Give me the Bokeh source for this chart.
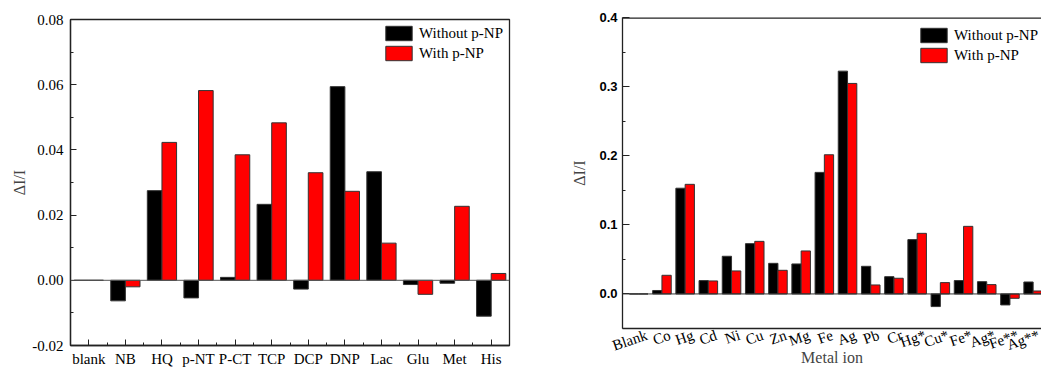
from bokeh.plotting import figure
from bokeh.models import (ColumnDataSource, FixedTicker, Legend, LegendItem, Span,
                          Range1d, NumeralTickFormatter)
from bokeh.layouts import row, column
from bokeh.transform import dodge
from bokeh.embed import file_html
from bokeh.resources import INLINE

# ---------------- data ----------------
analytes = ["blank", "NB", "HQ", "p-NT", "P-CT", "TCP", "DCP", "DNP", "Lac", "Glu", "Met", "His"]
without_pnp_a = [0.0, -0.0063, 0.0275, -0.0054, 0.0009, 0.0233, -0.0027, 0.0594, 0.0333, -0.0013, -0.0009, -0.0110]
with_pnp_a = [0.0, -0.0020, 0.0423, 0.0582, 0.0385, 0.0483, 0.0330, 0.0273, 0.0114, -0.0043, 0.0227, 0.0021]

metals = ["Blank", "Co", "Hg", "Cd", "Ni", "Cu", "Zn", "Mg", "Fe", "Ag", "Pb", "Cr",
          "Hg*", "Cu*", "Fe*", "Ag*", "Fe**", "Ag**"]
without_pnp_m = [0.0, 0.0050, 0.1530, 0.0193, 0.0545, 0.0728, 0.0443, 0.0434, 0.1759, 0.3224,
                 0.0400, 0.0250, 0.0786, -0.0183, 0.0193, 0.0178, -0.0159, 0.0173]
with_pnp_m = [0.0, 0.0270, 0.1586, 0.0188, 0.0333, 0.0761, 0.0342, 0.0622, 0.2014, 0.3046,
              0.0130, 0.0227, 0.0877, 0.0164, 0.0978, 0.0135, -0.0063, 0.0043]

series_labels = ["Without p-NP", "With p-NP"]
series_colors = ["#000000", "#FF0000"]

SERIF = "Liberation Serif"
SANS = "Liberation Sans"
LINE = "#222222"


def style_legend(p, r_black, r_red, loc):
    lg = Legend(items=[LegendItem(label=series_labels[0], renderers=[r_black]),
                       LegendItem(label=series_labels[1], renderers=[r_red])],
                location=loc, padding=0, margin=0, border_line_color=None,
                background_fill_alpha=0, glyph_width=33, glyph_height=18,
                label_height=18, label_standoff=4, spacing=2,
                label_text_font=SERIF, label_text_font_size="15px",
                label_text_color="black")
    p.add_layout(lg)


# ---------------- left chart ----------------
p1 = figure(width=560, height=369, x_range=Range1d(-0.5, 11.5), y_range=Range1d(-0.02, 0.08),
            output_backend="svg", toolbar_location=None,
            min_border_left=70, min_border_right=51, min_border_top=19, min_border_bottom=24)
p1.xgrid.visible = False
p1.ygrid.visible = False
p1.outline_line_color = LINE
p1.outline_line_width = 1.3

src1 = ColumnDataSource(dict(x=list(range(len(analytes))), a=without_pnp_a, b=with_pnp_a))
r1 = p1.vbar(x=dodge("x", -0.2), top="a", bottom=0, width=0.4, source=src1,
             fill_color=series_colors[0], line_color="#333333", line_width=1)
r2 = p1.vbar(x=dodge("x", 0.2), top="b", bottom=0, width=0.4, source=src1,
             fill_color=series_colors[1], line_color="#333333", line_width=1)
p1.add_layout(Span(location=0, dimension="width", line_color="#555555", line_width=1))

xa = p1.xaxis[0]
xa.ticker = FixedTicker(ticks=list(range(len(analytes))),
                        minor_ticks=[i + 0.5 for i in range(-1, len(analytes))])
xa.major_label_overrides = {i: n for i, n in enumerate(analytes)}
ya = p1.yaxis[0]
ya.ticker = FixedTicker(ticks=[-0.02, 0.0, 0.02, 0.04, 0.06, 0.08],
                        minor_ticks=[-0.01, 0.01, 0.03, 0.05, 0.07])
ya.formatter = NumeralTickFormatter(format="0.00")
ya.axis_label = "ΔI/I"
ya.axis_label_standoff = 1
for ax in (xa, ya):
    ax.major_tick_in = 6
    ax.major_tick_out = 0
    ax.minor_tick_in = 3
    ax.minor_tick_out = 0
    ax.axis_line_color = LINE
    ax.axis_line_width = 1.3
    ax.major_tick_line_color = LINE
    ax.minor_tick_line_color = LINE
    ax.major_label_text_font = SERIF
    ax.major_label_text_font_size = "15px"
    ax.major_label_text_color = "black"
    ax.axis_label_text_font = SERIF
    ax.axis_label_text_font_size = "16px"
    ax.axis_label_text_font_style = "normal"
xa.major_label_standoff = 5
ya.major_label_standoff = 7
# frame: 19..345 (326 px); legend box top 5 px below frame top, 38 px tall
style_legend(p1, r1, r2, (312, 326 - 5 - 38))

# ---------------- right chart ----------------
X0, X1 = -0.7, 17.36
p2 = figure(width=481, height=369, x_range=Range1d(X0, X1), y_range=Range1d(-0.05, 0.4),
            output_backend="svg", toolbar_location=None,
            min_border_left=62, min_border_right=0, min_border_top=17, min_border_bottom=41)
p2.xgrid.visible = False
p2.ygrid.visible = False
p2.outline_line_color = None

src2 = ColumnDataSource(dict(x=list(range(len(metals))), a=without_pnp_m, b=with_pnp_m))
q1 = p2.vbar(x=dodge("x", -0.2), top="a", bottom=0, width=0.4, source=src2,
             fill_color=series_colors[0], line_color="#333333", line_width=1)
q2 = p2.vbar(x=dodge("x", 0.2), top="b", bottom=0, width=0.4, source=src2,
             fill_color=series_colors[1], line_color="#333333", line_width=1)
p2.add_layout(Span(location=0, dimension="width", line_color="#333333", line_width=1))
# top border of the (right-clipped) frame
p2.add_layout(Span(location=0.4, dimension="width", line_color=LINE, line_width=2.6))

# rotated category labels: right end anchored a fixed 8 px right of the category centre
ANGLE = 0.33
px_per_cat = 419 / (X1 - X0)
label_ticks = [i + 8 / px_per_cat for i in range(len(metals))]

xb = p2.xaxis[0]
xb.ticker = FixedTicker(ticks=label_ticks, minor_ticks=[])
xb.major_label_overrides = {t: m for t, m in zip(label_ticks, metals)}
xb.major_label_orientation = ANGLE
xb.major_tick_in = 0
xb.major_tick_out = 0
xb.minor_tick_in = 0
xb.minor_tick_out = 0
xb.major_label_standoff = 6
xb.major_label_text_font = SERIF
xb.major_label_text_font_size = "15px"
xb.major_label_text_color = "black"
xb.axis_line_color = LINE
xb.axis_line_width = 1.3
xb.axis_label = "Metal ion"
xb.axis_label_standoff = -15
xb.axis_label_text_font = SERIF
xb.axis_label_text_font_size = "16px"
xb.axis_label_text_font_style = "normal"

yb = p2.yaxis[0]
yb.ticker = FixedTicker(ticks=[0.0, 0.1, 0.2, 0.3, 0.4],
                        minor_ticks=[-0.05, 0.05, 0.15, 0.25, 0.35])
yb.formatter = NumeralTickFormatter(format="0.0")
yb.major_tick_in = 7
yb.major_tick_out = 0
yb.minor_tick_in = 3
yb.minor_tick_out = 0
yb.axis_line_color = LINE
yb.axis_line_width = 1.3
yb.major_tick_line_color = LINE
yb.minor_tick_line_color = LINE
yb.major_label_text_font = SANS
yb.major_label_text_font_style = "bold"
yb.major_label_text_font_size = "13px"
yb.major_label_text_color = "black"
yb.major_label_standoff = 5
yb.axis_label = "ΔI/I"
yb.axis_label_standoff = 8
yb.axis_label_text_font = SERIF
yb.axis_label_text_font_size = "16px"
yb.axis_label_text_font_style = "normal"

# frame: 17..328 (311 px); legend top 9 px below frame top
style_legend(p2, q1, q2, (295, 311 - 9 - 38))

# each chart in its own column so that the two plot frames are laid out independently
layout = row(column(p1), column(p2))
open("out.html", "w").write(file_html(layout, INLINE))
